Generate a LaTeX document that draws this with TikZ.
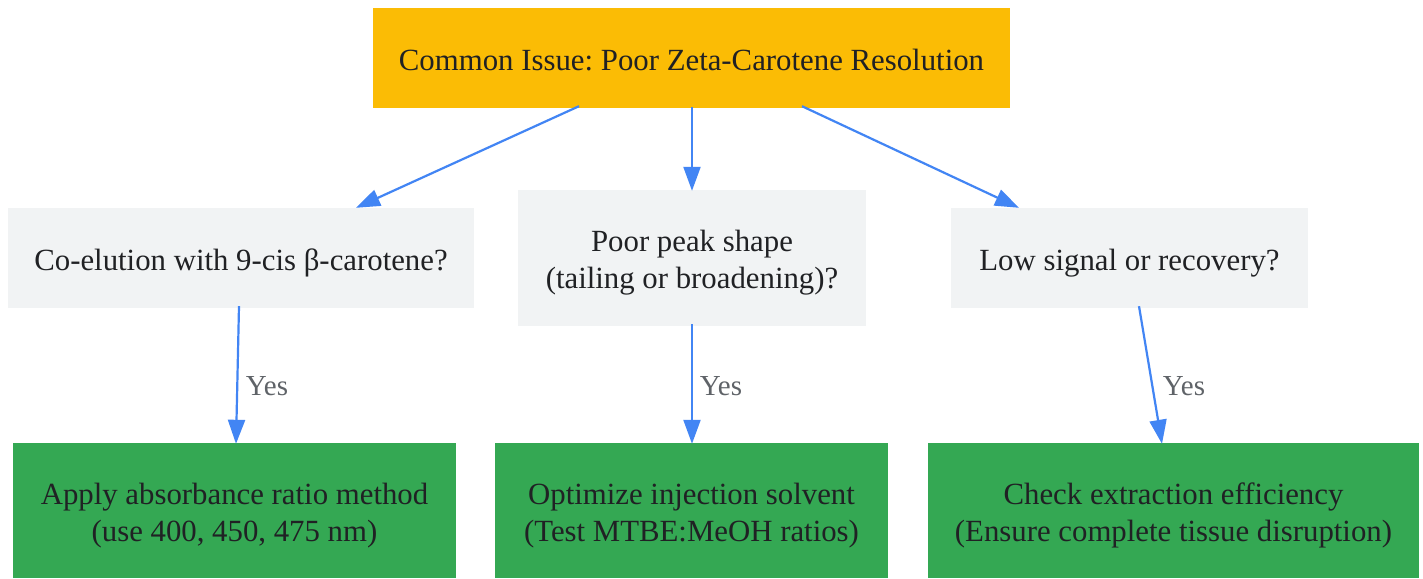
\documentclass[tikz,border=0pt]{standalone}
\usepackage{fontspec}
\setmainfont{Liberation Serif}
\frenchspacing
\usetikzlibrary{arrows.meta}
\definecolor{topc}{HTML}{FBBC05}
\definecolor{qc}{HTML}{F1F3F4}
\definecolor{ac}{HTML}{34A853}
\definecolor{arrc}{HTML}{4285F4}
\definecolor{txt}{HTML}{202124}
\definecolor{lbl}{HTML}{5F6368}
\newcommand\boxlines[1]{\raisebox{-5pt}[\height][\depth]{\begin{tabular}{@{}c@{}}#1\end{tabular}}}
\tikzset{
  box/.style={inner sep=0pt, text=txt, font=\fontsize{30.8}{37}\selectfont},
  topbox/.style={box, fill=topc},
  qbox/.style={box, fill=qc},
  abox/.style={box, fill=ac},
  arr/.style={draw=arrc, line width=2.2pt, -{Triangle[length=24pt,width=17pt]}},
  yeslbl/.style={text=lbl, font=\fontsize{29}{35}\selectfont, inner sep=0pt}
}
\begin{document}
\begin{tikzpicture}[x=1pt,y=-1pt]
\useasboundingbox[fill=white] (0,0) rectangle (1423,578);
\node[topbox, minimum width=637pt, minimum height=100pt] (top) at (691.5,58) {\boxlines{Common Issue: Poor Zeta-Carotene Resolution}};
\node[qbox, minimum width=466pt, minimum height=100pt] (q1) at (241,258) {\boxlines{Co-elution with 9-cis β-carotene?}};
\node[qbox, minimum width=348pt, minimum height=136pt] (q2) at (692,258) {\boxlines{Poor peak shape\\(tailing or broadening)?}};
\node[qbox, minimum width=357pt, minimum height=100pt] (q3) at (1129.5,258) {\boxlines{Low signal or recovery?}};
\node[abox, minimum width=443pt, minimum height=135pt] (a1) at (234.5,510.5) {\boxlines{Apply absorbance ratio method\\(use 400, 450, 475 nm)}};
\node[abox, minimum width=393pt, minimum height=135pt] (a2) at (691.5,510.5) {\boxlines{Optimize injection solvent\\(Test MTBE:MeOH ratios)}};
\node[abox, minimum width=491pt, minimum height=135pt] (a3) at (1173.5,510.5) {\boxlines{Check extraction efficiency\\(Ensure complete tissue disruption)}};
\draw[arr] ([xshift=-112.5pt,yshift=2pt]top.south) -- ([xshift=115pt]q1.north);
\draw[arr] ([xshift=0.5pt,yshift=1pt]top.south) -- ([yshift=-1pt]q2.north);
\draw[arr] ([xshift=110.5pt,yshift=2pt]top.south) -- ([xshift=-110.5pt]q3.north);
\draw[arr] ([xshift=-2pt,yshift=2pt]q1.south) -- ([xshift=1.5pt,yshift=-1pt]a1.north);
\draw[arr] ([yshift=2pt]q2.south) -- ([xshift=0.5pt,yshift=-1pt]a2.north);
\draw[arr] ([xshift=9.5pt,yshift=2pt]q3.south) -- ([xshift=-11.5pt,yshift=-1pt]a3.north);
\node[yeslbl] (y1) at (267,386) {Yes};
\node[yeslbl] (y2) at (721,386) {Yes};
\node[yeslbl] (y3) at (1184,386) {Yes};
\end{tikzpicture}
\end{document}
